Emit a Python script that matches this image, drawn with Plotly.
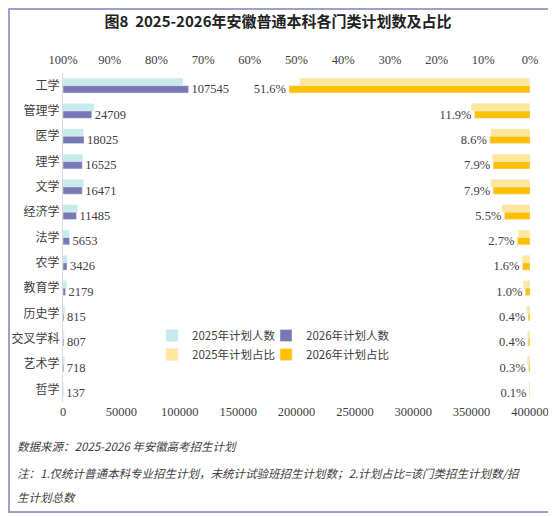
import plotly.graph_objects as go

categories = ["工学", "管理学", "医学", "理学", "文学", "经济学", "法学",
              "农学", "教育学", "历史学", "交叉学科", "艺术学", "哲学"]

plan_2025 = [102800, 26500, 17500, 16800, 17500, 12500, 5200,
             3500, 3000, 1500, 1000, 1300, 400]
plan_2026 = [107545, 24709, 18025, 16525, 16471, 11485, 5653,
             3426, 2179, 815, 807, 718, 137]

share_2025 = [49.3, 12.6, 8.4, 8.0, 8.4, 6.0, 2.5, 1.7, 1.4, 0.7, 0.5, 0.6, 0.2]
share_2026 = [51.6, 11.9, 8.6, 7.9, 7.9, 5.5, 2.7, 1.6, 1.0, 0.4, 0.4, 0.3, 0.1]

count_ticks = [0, 50000, 100000, 150000, 200000, 250000, 300000, 350000, 400000]
pct_ticks = [0, 10, 20, 30, 40, 50, 60, 70, 80, 90, 100]
pct_labels = [str(v) + "%" for v in pct_ticks]

c_cnt25 = "#c6ebea"
c_cnt26 = "#7878b6"
c_pct25 = "#ffe699"
c_pct26 = "#ffc000"
txt_col = "#404040"
num_font = "Liberation Serif, Noto Sans CJK SC"
cjk_font = "Noto Sans CJK SC"
bw = 0.29

fig = go.Figure()

fig.add_trace(go.Bar(
    y=categories, x=plan_2025, orientation="h", name="2025年计划人数",
    marker_color=c_cnt25, width=bw, offset=-bw, legend="legend",
    xaxis="x", yaxis="y"))
fig.add_trace(go.Bar(
    y=categories, x=plan_2026, orientation="h", name="2026年计划人数",
    marker_color=c_cnt26, width=bw, offset=0, legend="legend2",
    texttemplate="%{x:d}", textposition="outside", constraintext="none",
    textfont=dict(family=num_font, size=12.5, color=txt_col), cliponaxis=False,
    xaxis="x", yaxis="y"))
fig.add_trace(go.Bar(
    y=categories, x=share_2025, orientation="h", name="2025年计划占比",
    marker_color=c_pct25, width=bw, offset=-bw, legend="legend",
    xaxis="x2", yaxis="y"))
fig.add_trace(go.Bar(
    y=categories, x=share_2026, orientation="h", name="2026年计划占比",
    marker_color=c_pct26, width=bw, offset=0, legend="legend2",
    texttemplate="%{x:.1f}%", textposition="outside", constraintext="none",
    textfont=dict(family=num_font, size=12.5, color=txt_col), cliponaxis=False,
    xaxis="x2", yaxis="y"))

# page body adds an 8px margin, so the figure is drawn 8px smaller
PAD = 8
W, H = 556 - PAD, 517 - PAD
L, R, T, B = 55, 26, 65, 115
pw, ph = W - L - R, H - T - B


def sx(x):
    # screen x -> paper x
    return (x - PAD - L) / pw


def sy(y):
    # screen y -> paper y
    return (H - B - (y - PAD)) / ph


fig.update_layout(
    width=W, height=H,
    margin=dict(l=L, r=R, t=T, b=B),
    paper_bgcolor="white", plot_bgcolor="white",
    barmode="overlay",
    font=dict(family=num_font, size=12, color=txt_col),
    title=dict(text="<b>图8  2025-2026年安徽普通本科各门类计划数及占比</b>",
               x=sx(278), xref="paper", xanchor="center", y=1 - 14 / H, yanchor="middle",
               font=dict(family=cjk_font, size=15, color="#222222")),
    xaxis=dict(range=[0, 400000], tickvals=count_ticks, tickformat="d",
               showgrid=False, zeroline=False, showline=False, ticks="",
               automargin=False,
               tickfont=dict(family=num_font, size=12.5, color=txt_col)),
    xaxis2=dict(range=[100, 0], overlaying="x", side="top", tickvals=pct_ticks,
                ticktext=pct_labels, showgrid=False, zeroline=False, showline=False,
                ticks="", ticklabelstandoff=6, automargin=False,
                tickfont=dict(family=num_font, size=12.5, color=txt_col)),
    yaxis=dict(autorange="reversed", showgrid=False, zeroline=False,
               showline=True, linecolor="#d9d9d9", linewidth=1, ticks="",
               automargin=False,
               tickfont=dict(family=cjk_font, size=12, color=txt_col)),
    legend=dict(x=sx(152), y=sy(321), xanchor="left", yanchor="top",
                orientation="v", bgcolor="rgba(0,0,0,0)", itemwidth=30,
                tracegroupgap=1, font=dict(family=cjk_font, size=11.5, color=txt_col)),
    legend2=dict(x=sx(266), y=sy(321), xanchor="left", yanchor="top",
                 orientation="v", bgcolor="rgba(0,0,0,0)", itemwidth=30,
                 tracegroupgap=1, font=dict(family=cjk_font, size=11.5, color=txt_col)),
    showlegend=True,
)

# outer frame
fig.add_shape(type="rect", xref="paper", yref="paper",
              x0=sx(PAD + 1), x1=sx(549), y0=sy(512), y1=sy(PAD + 1),
              line=dict(color="#8080c0", width=1.5), fillcolor="rgba(0,0,0,0)")

notes = [
    (446, "数据来源：2025-2026 年安徽高考招生计划"),
    (473, "注：1.仅统计普通本科专业招生计划，未统计试验班招生计划数；2.计划占比=该门类招生计划数/招"),
    (497, "生计划总数"),
]
for yy, t in notes:
    fig.add_annotation(text="<i>" + t + "</i>", xref="paper", yref="paper",
                       x=sx(15), y=sy(yy), xanchor="left", yanchor="middle",
                       showarrow=False,
                       font=dict(family=cjk_font, size=11.5, color="#404040"))

fig.write_html("out.html")
